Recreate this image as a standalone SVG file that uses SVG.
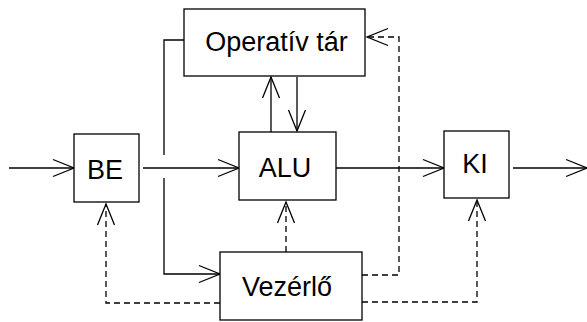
<svg xmlns="http://www.w3.org/2000/svg" width="587" height="322" viewBox="0 0 587 322">
<defs>
<style>
.box{fill:#fff;stroke:#000;stroke-width:1.3}
.lbl{font-family:"Liberation Sans",Arial,sans-serif;font-size:27px;fill:#000;text-anchor:middle}
.ln{fill:none;stroke:#000;stroke-width:1.3}
.dash{stroke-dasharray:6,4}
</style>
<marker id="arr" markerUnits="userSpaceOnUse" markerWidth="30" markerHeight="24" viewBox="-24 -12 30 24" refX="0" refY="0" orient="auto" overflow="visible">
<path d="M-21,-8.5 L0,0 L-21,8.5" fill="none" stroke="#000" stroke-width="1.3"/>
</marker>
</defs>
<rect width="587" height="322" fill="#fff"/>
<g id="connectors">
<path class="ln" d="M9,168 H74" marker-end="url(#arr)"/>
<path class="ln" d="M143,168 H239" marker-end="url(#arr)"/>
<path class="ln" d="M184,40 H164 V155"/>
<path class="ln" d="M164,178 V274 H220" marker-end="url(#arr)"/>
<path class="ln" d="M271,132 V77" marker-end="url(#arr)"/>
<path class="ln" d="M297,77 V131" marker-end="url(#arr)"/>
<path class="ln" d="M336,168 H444" marker-end="url(#arr)"/>
<path class="ln" d="M513,168 H587" marker-end="url(#arr)"/>
<path class="ln dash" d="M362,275 H399 V37 H367" marker-end="url(#arr)"/>
<path class="ln dash" d="M362,302 H477 V200" marker-end="url(#arr)"/>
<path class="ln dash" d="M286,252 V202" marker-end="url(#arr)"/>
<path class="ln dash" d="M220,303 H106 V204" marker-end="url(#arr)"/>
</g>
<g id="be"><rect class="box" x="74" y="134" width="65" height="68"/><text class="lbl" x="105" y="179">BE</text></g>
<g id="optar"><rect class="box" x="184" y="9" width="181" height="67"/><text class="lbl" x="276.5" y="51">Operatív tár</text></g>
<g id="alu"><rect class="box" x="239" y="132" width="97" height="68"/><text class="lbl" x="285" y="177">ALU</text></g>
<g id="ki"><rect class="box" x="444" y="131" width="65" height="67"/><text class="lbl" x="475" y="173">KI</text></g>
<g id="vezerlo"><rect class="box" x="220" y="252" width="142" height="68"/><text class="lbl" x="287" y="296">Vezérlő</text></g>
</svg>
